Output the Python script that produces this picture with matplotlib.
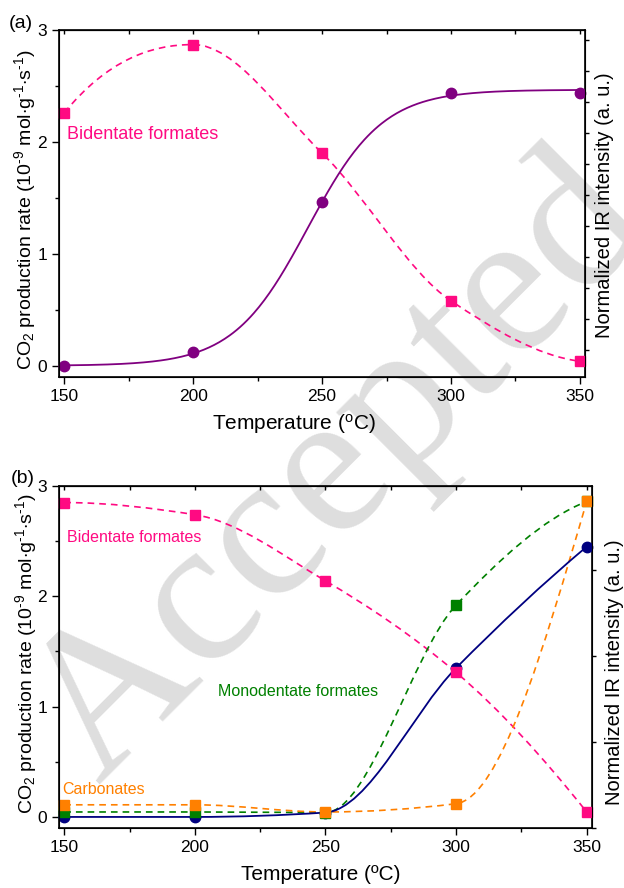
import numpy as np
import matplotlib.pyplot as plt
from matplotlib.path import Path
from matplotlib.patches import PathPatch
from matplotlib.ticker import MultipleLocator

plt.rcParams['font.family'] = ['Liberation Sans', 'DejaVu Sans']
plt.rcParams['mathtext.fontset'] = 'custom'
plt.rcParams['mathtext.rm'] = 'Liberation Sans'
plt.rcParams['mathtext.it'] = 'Liberation Sans:italic'

# data
temps = [150, 200, 250, 300, 350]
a_co2 = [0.0, 0.12, 1.46, 2.44, 2.44]
a_bident = [2.26, 2.87, 1.90, 0.58, 0.04]
b_co2 = [0.0, 0.0, 0.04, 1.35, 2.45]
b_bident = [2.85, 2.74, 2.14, 1.31, 0.045]
b_monodent = [0.045, 0.045, 0.04, 1.92, 2.86]
b_carbon = [0.11, 0.11, 0.045, 0.12, 2.86]

PINK = '#ff0a82'
PURPLE = '#800080'
NAVY = '#000080'
GREEN = '#008000'
ORANGE = '#ff8000'


def pchip_slopes(x, y):
    h = np.diff(x)
    d = np.diff(y) / h
    m = np.zeros_like(y)
    for i in range(1, len(x) - 1):
        if d[i - 1] * d[i] > 0:
            w1 = 2 * h[i] + h[i - 1]
            w2 = h[i] + 2 * h[i - 1]
            m[i] = (w1 + w2) / (w1 / d[i - 1] + w2 / d[i])
    for i0, k0, k1 in ((0, 0, 1), (-1, -1, -2)):
        hk0, hk1 = h[k0], h[k1]
        e = ((2 * hk0 + hk1) * d[k0] - hk0 * d[k1]) / (hk0 + hk1)
        if np.sign(e) != np.sign(d[k0]):
            e = 0
        elif np.sign(d[k0]) != np.sign(d[k1]) and abs(e) > abs(3 * d[k0]):
            e = 3 * d[k0]
        m[i0] = e
    return m


def spline_line(ax, xs, ys, color, dashed=True, lw=1.2):
    # smooth connection drawn as bezier segments through the points
    x = np.asarray(xs, float)
    y = np.asarray(ys, float)
    m = pchip_slopes(x, y)
    verts = [(x[0], y[0])]
    codes = [Path.MOVETO]
    for i in range(len(x) - 1):
        h = x[i + 1] - x[i]
        verts += [(x[i] + h / 3, y[i] + m[i] * h / 3),
                  (x[i + 1] - h / 3, y[i + 1] - m[i + 1] * h / 3),
                  (x[i + 1], y[i + 1])]
        codes += [Path.CURVE4] * 3
    ls = (0, (4, 3)) if dashed else '-'
    ax.add_patch(PathPatch(Path(verts, codes), fill=False, ec=color,
                           lw=lw, ls=ls, zorder=2))


def sigmoid_fit(xs, ys):
    # simple least squares sigmoid fit (baseline 0)
    xs = np.asarray(xs, float)
    ys = np.asarray(ys, float)
    best = None
    for x0 in np.arange(200, 330, 0.5):
        for dx in np.arange(5, 60, 0.5):
            f = 1 / (1 + np.exp(-(xs - x0) / dx))
            top = f @ ys / (f @ f)
            err = np.sum((top * f - ys) ** 2)
            if best is None or err < best[0]:
                best = (err, top, x0, dx)
    _, top, x0, dx = best
    xf = np.linspace(150, 350, 300)
    return xf, top / (1 + np.exp(-(xf - x0) / dx))


def style_axes(ax, right_lim, right_ticks):
    ax.set_facecolor('none')
    ax.set_xlim(148, 352)
    ax.set_ylim(-0.1, 3.0)
    ax.set_xticks([150, 200, 250, 300, 350])
    ax.xaxis.set_minor_locator(MultipleLocator(25))
    ax.set_yticks([0, 1, 2, 3])
    ax.yaxis.set_minor_locator(MultipleLocator(0.5))
    ax.tick_params(which='both', direction='out', labelsize=12.5, width=1)
    ax.tick_params(which='major', length=5)
    ax.tick_params(which='minor', length=3)
    ax.tick_params(axis='y', right=False)
    for s in ax.spines.values():
        s.set_linewidth(1.2)
    top = ax.secondary_xaxis('top')
    top.set_xticks([150, 200, 250, 300, 350], labels=[])
    top.xaxis.set_minor_locator(MultipleLocator(25))
    top.tick_params(which='both', direction='in', length=3, width=1)
    ax2 = ax.twinx()
    ax2.set_ylim(*right_lim)
    ax2.set_yticks(right_ticks, labels=[])
    ax2.tick_params(direction='out', length=3, width=1)
    return ax2


fig = plt.figure(figsize=(6.24, 8.88), dpi=100)

# watermark
fig.text(0.545, 0.47, 'Accepted', fontsize=150, family='Liberation Serif',
         color='#dedede', rotation=45, ha='center', va='center', zorder=-5)

ylab = ('CO$_2$ production rate (10$^{\u20109}$ mol$\\cdot$g$^{\u20101}$'
        '$\\cdot$s$^{\u20101}$)')

# (a)
ax = fig.add_axes([0.0946, 0.5755, 0.843, 0.3907])
style_axes(ax, (-0.87, 10.32), range(11))
spline_line(ax, temps, a_bident, PINK)
xf, yf = sigmoid_fit(temps, a_co2)
ax.plot(xf, yf, color=PURPLE, lw=1.3, zorder=3)
ax.plot(temps, a_bident, 's', color=PINK, ms=6.5, zorder=4, clip_on=False)
ax.plot(temps, a_co2, 'o', color=PURPLE, ms=7.5, zorder=5, clip_on=False)
ax.text(151, 2.07, 'Bidentate formates', color=PINK, fontsize=13, va='center')
fig.text(9 / 624, 1 - 24 / 888, '(a)', fontsize=14, va='center')
fig.text(294 / 624, 1 - 424 / 888, 'Temperature ($^{\\rm o}$C)', fontsize=15,
         ha='center', va='center')
fig.text(25 / 624, 1 - 210 / 888, ylab, fontsize=14, rotation=90,
         ha='center', va='center')
fig.text(605 / 624, 1 - 205 / 888, 'Normalized IR intensity (a. u.)',
         fontsize=14.5, rotation=90, ha='center', va='center')

# (b)
bx = fig.add_axes([0.0946, 0.0676, 0.854, 0.3851])
style_axes(bx, (0, 3.98), [0, 1, 2, 3])
spline_line(bx, temps, b_bident, PINK)
spline_line(bx, temps, b_monodent, GREEN)
spline_line(bx, temps, b_carbon, ORANGE)
spline_line(bx, temps, b_co2, NAVY, dashed=False, lw=1.3)
bx.plot(temps, b_co2, 'o', color=NAVY, ms=7.5, zorder=4, clip_on=False)
bx.plot(temps, b_bident, 's', color=PINK, ms=6.5, zorder=5, clip_on=False)
bx.plot(temps, b_monodent, 's', color=GREEN, ms=6.5, zorder=5, clip_on=False)
bx.plot(temps, b_carbon, 's', color=ORANGE, ms=6.5, zorder=6, clip_on=False)
bx.text(151.2, 2.53, 'Bidentate formates', color=PINK, fontsize=11.5, va='center')
bx.text(209, 1.14, 'Monodentate formates', color=GREEN, fontsize=11.5, va='center')
bx.text(149.2, 0.25, 'Carbonates', color=ORANGE, fontsize=11.5, va='center')
fig.text(11 / 624, 1 - 478 / 888, '(b)', fontsize=14, va='center')
fig.text(321 / 624, 1 - 874 / 888, 'Temperature (ºC)', fontsize=15,
         ha='center', va='center')
fig.text(26 / 624, 1 - 654 / 888, ylab, fontsize=14, rotation=90,
         ha='center', va='center')
fig.text(615 / 624, 1 - 672 / 888, 'Normalized IR intensity (a. u.)',
         fontsize=14.5, rotation=90, ha='center', va='center')

fig.savefig('out.png', dpi=100)
